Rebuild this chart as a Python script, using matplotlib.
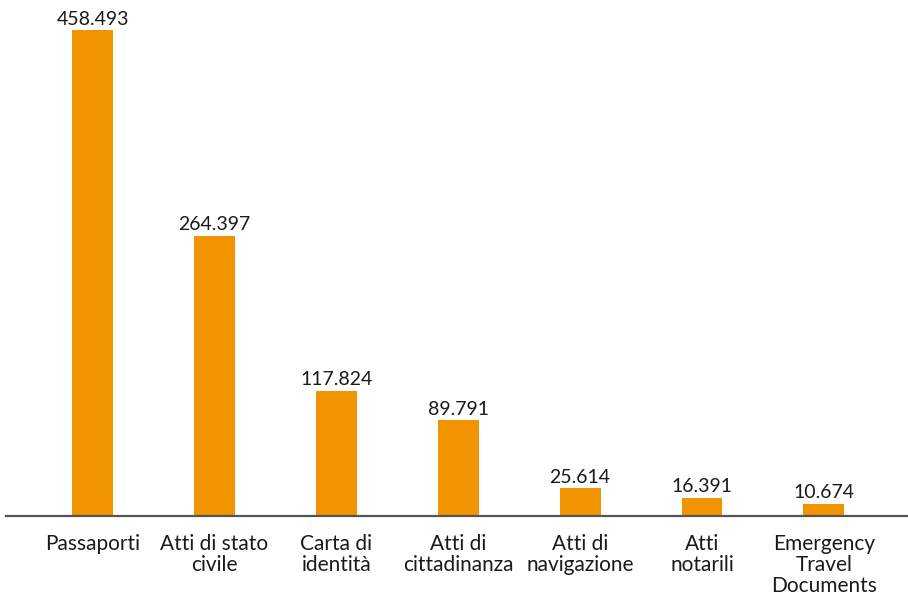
import matplotlib
matplotlib.use("Agg")
import matplotlib.pyplot as plt

categories = ["Passaporti", "Atti di stato\ncivile", "Carta di\nidentità", "Atti di\ncittadinanza",
              "Atti di\nnavigazione", "Atti\nnotarili", "Emergency\nTravel\nDocuments"]
values = [458493, 264397, 117824, 89791, 25614, 16391, 10674]
value_labels = ["458.493", "264.397", "117.824", "89.791", "25.614", "16.391", "10.674"]

plt.rcParams['font.family'] = ['Lato', 'DejaVu Sans']

W, H = 908, 596
fig = plt.figure(figsize=(W / 100, H / 100), dpi=100)
base_px = 515.5
top_px = 30.3
ax = fig.add_axes([6 / W, (H - base_px) / H, 902 / W, (base_px - top_px) / H])

x = list(range(len(categories)))
ax.bar(x, values, width=0.336, color="#F29400", zorder=2)
ax.set_xlim(-0.71, 6.69)
ax.set_ylim(0, max(values))

for xi, v, lab in zip(x, values, value_labels):
    ax.annotate(lab, (xi, v), xytext=(0, 2), textcoords="offset points",
                ha="center", va="bottom", fontsize=14, color="#1a1a1a", clip_on=False)

ax.set_xticks(x)
ax.set_xticklabels(categories, fontsize=15, color="#1a1a1a", linespacing=1.08, va="top")
ax.tick_params(axis="x", length=0, pad=13)
ax.set_yticks([])
for s in ["top", "right", "left"]:
    ax.spines[s].set_visible(False)
ax.spines["bottom"].set_color("#555555")
ax.spines["bottom"].set_linewidth(1.6)
ax.spines["bottom"].set_zorder(3)

fig.savefig("out.png", dpi=100)
